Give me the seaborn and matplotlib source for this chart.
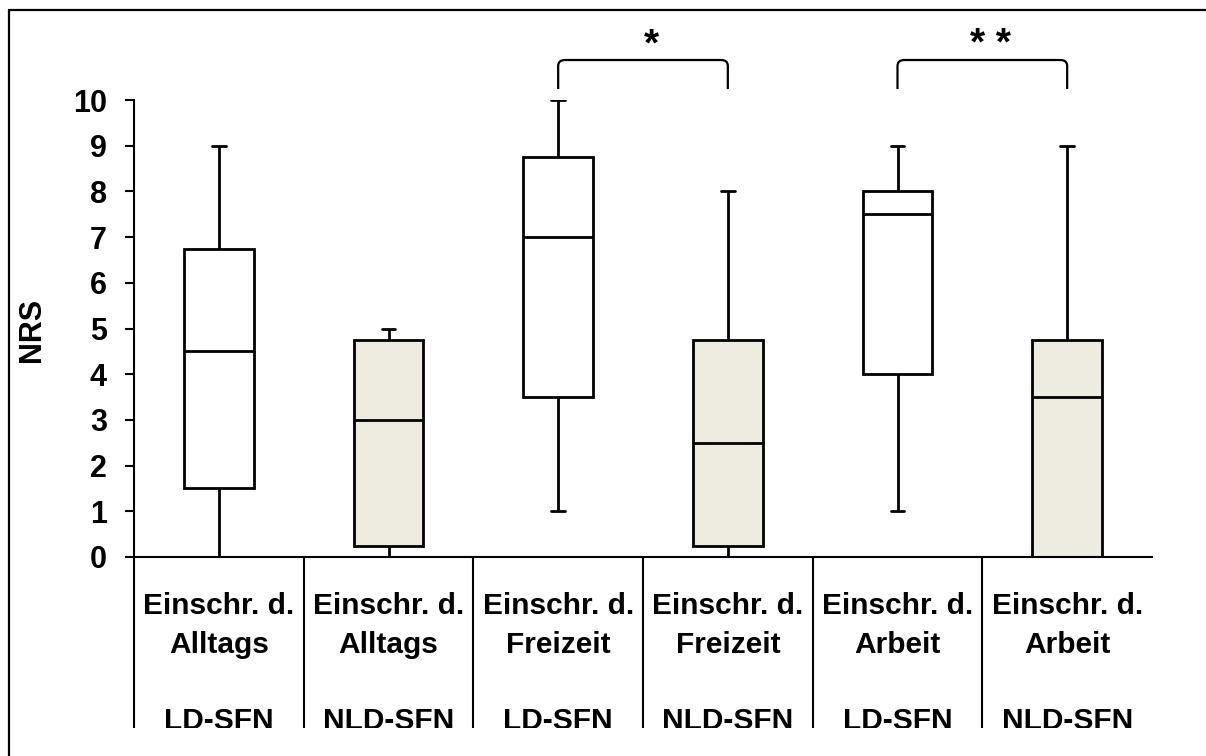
import numpy as np
import pandas as pd
import seaborn as sns
import matplotlib
matplotlib.use("Agg")
import matplotlib.pyplot as plt
from matplotlib.path import Path
from matplotlib.patches import PathPatch, Rectangle
from matplotlib.lines import Line2D
import matplotlib.transforms as mtransforms

# Five-number summaries (min, Q1, median, Q3, max) of the NRS ratings
topics = ["Alltags", "Alltags", "Freizeit", "Freizeit", "Arbeit", "Arbeit"]
prefix = "Einschr. d."
groups = ["LD-SFN", "NLD-SFN", "LD-SFN", "NLD-SFN", "LD-SFN", "NLD-SFN"]
box_min = [0, 0, 1, 0, 1, 0]
box_q1 = [1.5, 0.25, 3.5, 0.25, 4, 0]
box_median = [4.5, 3, 7, 2.5, 7.5, 3.5]
box_q3 = [6.75, 4.75, 8.75, 4.75, 8, 4.75]
box_max = [9, 5, 10, 8, 9, 9]
y_ticks = [0, 1, 2, 3, 4, 5, 6, 7, 8, 9, 10]
# significance brackets: (left box index, right box index, label)
brackets = [(2, 3, "*"), (4, 5, "* *")]

slots = [f"{t} {g}" for t, g in zip(topics, groups)]
rows = []
for s, g, a, b, c, d, e in zip(slots, groups, box_min, box_q1, box_median, box_q3, box_max):
    for v in (a, b, c, d, e):
        rows.append({"slot": s, "group": g, "NRS": v})
df = pd.DataFrame(rows)

sns.set_theme(style="white")
plt.rcParams["font.family"] = ["Liberation Sans", "DejaVu Sans"]
plt.rcParams["font.weight"] = "bold"
for key in ("text.color", "axes.labelcolor", "xtick.color", "ytick.color",
            "axes.edgecolor"):
    plt.rcParams[key] = "black"

W, H = 1206, 756
fig = plt.figure(figsize=(W / 100, H / 100), dpi=100)
x0, x1, y0, y1 = 134, 1152, 557, 100
ax = fig.add_axes([x0 / W, 1 - y0 / H, (x1 - x0) / W, (y0 - y1) / H])

box_w = 0.41
sns.boxplot(data=df, x="slot", y="NRS", hue="group", order=slots,
            palette={"LD-SFN": "white", "NLD-SFN": "#EEECE1"},
            dodge=False, saturation=1, whis=(0, 100), width=box_w,
            linecolor="black", linewidth=2.0, legend=False, ax=ax)

# narrow whisker caps
for ln in ax.lines:
    xd = np.asarray(ln.get_xdata(), dtype=float)
    yd = np.asarray(ln.get_ydata(), dtype=float)
    if len(xd) == 2 and np.isclose(yd[0], yd[1]):
        length = abs(xd[1] - xd[0])
        if length < 0.9 * box_w:
            c = xd.mean()
            ln.set_xdata([c - 0.04, c + 0.04])
    ln.set_color("black")

ax.set_xlim(-0.5, 5.5)
ax.set_ylim(0, 10)
ax.set_yticks(y_ticks)
ax.set_yticklabels([str(t) for t in y_ticks], fontsize=22, fontweight="bold")
ax.set_ylabel("")
ax.tick_params(axis="y", direction="out", length=6.5, width=1.5, pad=13,
               color="black", labelcolor="black", left=True)
fig.text(32 / W, 1 - 330 / H, "NRS", rotation=90, ha="center", va="center",
         fontsize=22, fontweight="bold")

# category separators running down through the label area
sep_len = (728 - 557) * 0.72
ax.set_xticks(np.arange(6))
ax.set_xticklabels([])
ax.set_xticks(np.arange(-0.5, 5.0, 1.0), minor=True)
ax.tick_params(axis="x", which="major", length=0)
ax.tick_params(axis="x", which="minor", direction="out", length=sep_len,
               width=1.5, color="black", bottom=True)
ax.set_xlabel("")

for side in ("top", "right"):
    ax.spines[side].set_visible(False)
for side in ("left", "bottom"):
    ax.spines[side].set_color("black")
    ax.spines[side].set_linewidth(1.5)

# two-level category labels, one text per line
trans = mtransforms.blended_transform_factory(ax.transData, ax.transAxes)
def ax_y(px):
    return -(px - y0) / (y0 - y1)
for i, (t, g) in enumerate(zip(topics, groups)):
    for txt, base in ((prefix, 614), (t, 653), (g, 729)):
        ax.text(i, ax_y(base), txt, transform=trans, ha="center", va="baseline",
                fontsize=21.5, fontweight="bold", clip_on=False)

# significance brackets
leg_lo, top_y = 10.24, 10.875
rx, ry = 0.04, 0.13
for i, j, lab in brackets:
    verts = [(i, leg_lo), (i, top_y - ry), (i, top_y), (i + rx, top_y),
             (j - rx, top_y), (j, top_y), (j, top_y - ry), (j, leg_lo)]
    codes = [Path.MOVETO, Path.LINETO, Path.CURVE3, Path.CURVE3,
             Path.LINETO, Path.CURVE3, Path.CURVE3, Path.LINETO]
    ax.add_patch(PathPatch(Path(verts, codes), fill=False, lw=1.6,
                           edgecolor="black", clip_on=False))
    ax.text((i + j) / 2 + 0.05, 10.98, lab, ha="center", va="baseline",
            fontsize=28, fontweight="bold", clip_on=False)

# clip the label area at its lower edge
fig.add_artist(Rectangle((12 / W, 0), 1, (H - 728) / H, transform=fig.transFigure,
                         facecolor="white", edgecolor="none", zorder=50))
# outer frame (top and left edges)
fig.add_artist(Line2D([9 / W, 1], [1 - 10 / H, 1 - 10 / H], transform=fig.transFigure,
                      color="black", lw=1.6, zorder=60))
fig.add_artist(Line2D([9 / W, 9 / W], [0, 1 - 10 / H], transform=fig.transFigure,
                      color="black", lw=1.6, zorder=60))

fig.savefig("out.png", dpi=100, facecolor="white")
